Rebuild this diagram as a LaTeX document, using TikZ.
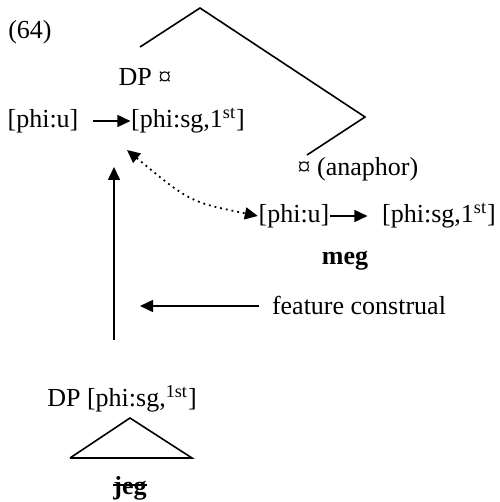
\documentclass[tikz,border=0pt]{standalone}
\usepackage{fontspec}
\setmainfont{Liberation Serif}
\usetikzlibrary{arrows.meta}

\tikzset{
  lbl/.style={inner sep=0pt, font=\fontsize{13}{15}\selectfont},
  arr/.style={-{Triangle[length=6.5pt,width=6pt]}, line width=0.8pt},
}

\begin{document}
\begin{tikzpicture}[x=0.5pt, y=-0.5pt, line width=0.8pt]
        \useasboundingbox (0,0) rectangle (499,502);

        % Example number
        \node[lbl] (num) at (30,32) {(64)};

        % Top of the tree
        \coordinate (apex)  at (200,8);
        \coordinate (lend)  at (140,47);
        \coordinate (rcorn) at (365,117);
        \coordinate (rend)  at (307,155);
        \draw (lend)--(apex)--(rcorn)--(rend);

        % Antecedent DP
        \node[lbl] (dp)     at (145,77)  {DP ¤};
        \node[lbl] (phiu1)  at (43,121)  {[phi:u]};
        \node[lbl] (phisg1) at (188,121) {[phi:sg,1\textsuperscript{st}]};
        \draw[arr, shorten <=7pt] (phiu1.east) -- (phisg1.west);

        % Anaphor
        \node[lbl] (ana)    at (358,169) {¤ (anaphor)};
        \node[lbl] (phiu2)  at (294,216) {[phi:u]};
        \node[lbl] (phisg2) at (439,216) {[phi:sg,1\textsuperscript{st}]};
        \node[lbl, font=\fontsize{13}{15}\selectfont\bfseries] (meg) at (345,261) {meg};
        \draw[arr, shorten >=7pt] (phiu2.east) -- (phisg2.west);

        % Dotted link between the two
        \coordinate (dtop) at (127,150);
        \draw[dotted, line width=0.9pt, {Triangle[length=6.5pt,width=6pt]}-{Triangle[length=6.5pt,width=6pt]}]
            (dtop) .. controls (190,202) .. (phiu2.west);

        % Feature construal
        \node[lbl] (fc) at (359,305) {feature construal};
        \coordinate (fctip) at (140,306);
        \draw[arr] ([xshift=-6pt]fc.west |- fctip) -- (fctip);

        % Lower DP
        \node[lbl] (dp2) at (122,399) {DP [phi:sg,\textsuperscript{1st}]};
        \coordinate (vtop) at (114,167);
        \draw[arr] (114,340) -- (vtop);

        % Triangle
        \coordinate (tapex) at (130,418);
        \coordinate (tl) at (70,458);
        \coordinate (tr) at (192,458);
        \draw (tl)--(tapex)--(tr)--(tl);
        \node[lbl, font=\fontsize{13}{15}\selectfont\bfseries] (jeg) at (130,488) {jeg};
        \draw[line width=0.6pt] ([yshift=1.5pt]jeg.west) -- ([yshift=1.5pt]jeg.east);
    \end{tikzpicture}
\end{document}
